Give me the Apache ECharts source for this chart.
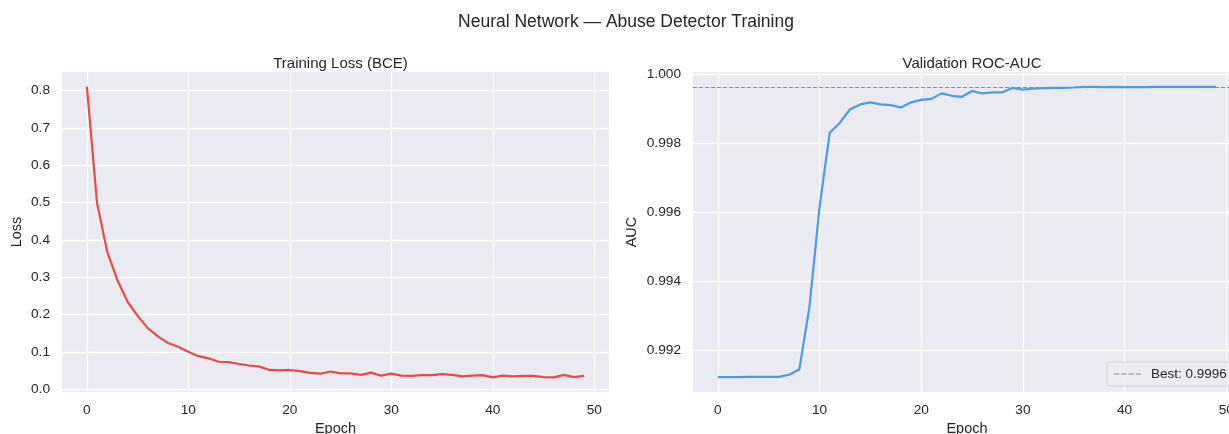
<!DOCTYPE html>
<html>
<head>
<meta charset="utf-8">
<title>Neural Network — Abuse Detector Training</title>
<script src="https://cdn.jsdelivr.net/npm/echarts@6/dist/echarts.min.js"></script>
<style>
  html, body { margin: 0; padding: 0; background: #ffffff; }
  #chart { width: 1229px; height: 434px; }
</style>
</head>
<body>
<div id="chart"></div>
<script>
// Training history of the abuse-detector network
const epochs = [0, 1, 2, 3, 4, 5, 6, 7, 8, 9, 10, 11, 12, 13, 14, 15, 16, 17, 18, 19,
  20, 21, 22, 23, 24, 25, 26, 27, 28, 29, 30, 31, 32, 33, 34, 35, 36, 37, 38, 39,
  40, 41, 42, 43, 44, 45, 46, 47, 48, 49];

const trainLoss = [0.811, 0.500, 0.369, 0.293, 0.235, 0.197, 0.164, 0.142, 0.124, 0.114,
  0.101, 0.089, 0.083, 0.074, 0.073, 0.068, 0.064, 0.061, 0.052, 0.051,
  0.052, 0.049, 0.044, 0.042, 0.048, 0.043, 0.043, 0.039, 0.045, 0.037,
  0.042, 0.037, 0.036, 0.038, 0.038, 0.041, 0.039, 0.035, 0.037, 0.038,
  0.032, 0.037, 0.035, 0.036, 0.036, 0.033, 0.032, 0.039, 0.033, 0.036];

const valAuc = [0.99122, 0.99122, 0.99122, 0.99123, 0.99123, 0.99123, 0.99123, 0.99129, 0.99144, 0.99325,
  0.99616, 0.99831, 0.99860, 0.99899, 0.99913, 0.99919, 0.99913, 0.99911, 0.99904, 0.99919,
  0.99926, 0.99929, 0.99945, 0.99938, 0.99935, 0.99952, 0.99945, 0.99948, 0.99948, 0.99961,
  0.99956, 0.99959, 0.99960, 0.99961, 0.99961, 0.99962, 0.99964, 0.99964, 0.99963, 0.99964,
  0.99963, 0.99963, 0.99963, 0.99964, 0.99964, 0.99964, 0.99964, 0.99964, 0.99964, 0.99964];

const epochTicks = [0, 10, 20, 30, 40, 50];
const lossTicks = [0.0, 0.1, 0.2, 0.3, 0.4, 0.5, 0.6, 0.7, 0.8];
const aucTicks = [0.992, 0.994, 0.996, 0.998, 1.000];

const bestAuc = Math.max(...valAuc);
const bestLabel = 'Best: ' + bestAuc.toFixed(4);

const TEXT = '#262626';
const FONT = '"Liberation Sans", Arial, sans-serif';
const PANEL_BG = '#EAEAF2';
const BEST_COLOR = '#8c8c8c';
// four short dashes, used as the legend key of the dashed reference line
const DASH_ICON = 'path://M0,0H5V1H0Z M7,0H12V1H7Z M14,0H19V1H14Z M21,0H26V1H21Z';

function pairs(xs, ys) { return xs.map((x, i) => [x, ys[i]]); }

function xAxisFor(gridIndex) {
  return {
    type: 'value', gridIndex,
    min: -2.45, max: 51.45,
    name: 'Epoch', nameLocation: 'middle', nameGap: 28,
    nameTextStyle: { color: TEXT, fontSize: 14.5, fontFamily: FONT },
    axisLine: { show: false }, axisTick: { show: false, customValues: epochTicks },
    axisLabel: { customValues: epochTicks, color: TEXT, fontSize: 13.7, fontFamily: FONT, margin: 11 },
    splitLine: { show: true, lineStyle: { color: '#ffffff', width: 1.3 } }
  };
}

function yAxisFor(gridIndex, min, max, ticks, digits, name, nameGap) {
  return {
    type: 'value', gridIndex, min, max,
    name, nameLocation: 'middle', nameGap,
    nameTextStyle: { color: TEXT, fontSize: 14.5, fontFamily: FONT },
    axisLine: { show: false }, axisTick: { show: false, customValues: ticks },
    axisLabel: { customValues: ticks, color: TEXT, fontSize: 13.7, fontFamily: FONT, margin: 12,
      formatter: v => v.toFixed(digits) },
    splitLine: { show: true, lineStyle: { color: '#ffffff', width: 1.3 } }
  };
}

const chart = echarts.init(document.getElementById('chart'), null, { renderer: 'canvas' });

chart.setOption({
  animation: false,
  backgroundColor: '#ffffff',
  textStyle: { fontFamily: FONT },
  title: [
    { text: 'Neural Network — Abuse Detector Training', left: 621, top: 8, textAlign: 'center',
      textStyle: { color: TEXT, fontSize: 17.5, fontWeight: 'normal', fontFamily: FONT } },
    { text: 'Training Loss (BCE)', left: 335.5, top: 51, textAlign: 'center',
      textStyle: { color: TEXT, fontSize: 15, fontWeight: 'normal', fontFamily: FONT } },
    { text: 'Validation ROC-AUC', left: 967, top: 51, textAlign: 'center',
      textStyle: { color: TEXT, fontSize: 15, fontWeight: 'normal', fontFamily: FONT } }
  ],
  grid: [
    { left: 62, top: 72, width: 547, height: 320, outerBoundsMode: 'none', containLabel: false,
      show: true, backgroundColor: PANEL_BG, borderWidth: 0 },
    { left: 693, top: 72, width: 548, height: 320, outerBoundsMode: 'none', containLabel: false,
      show: true, backgroundColor: PANEL_BG, borderWidth: 0 }
  ],
  xAxis: [xAxisFor(0), xAxisFor(1)],
  yAxis: [
    yAxisFor(0, -0.007, 0.85, lossTicks, 1, 'Loss', 38),
    yAxisFor(1, 0.99079, 1.00007, aucTicks, 3, 'AUC', 54)
  ],
  legend: {
    data: [{ name: bestLabel, icon: DASH_ICON }],
    left: 1107, top: 362,
    orient: 'vertical',
    backgroundColor: 'rgba(236,236,243,0.85)',
    borderColor: '#cfcfd6', borderWidth: 1, borderRadius: 3,
    padding: [5, 8, 5, 7],
    itemWidth: 27, itemHeight: 1.3, itemGap: 6,
    textStyle: { color: TEXT, fontSize: 13.5, fontFamily: FONT, padding: [0, 0, 0, 5] }
  },
  series: [
    {
      name: 'Train Loss', type: 'line', xAxisIndex: 0, yAxisIndex: 0,
      data: pairs(epochs, trainLoss), symbol: 'none',
      lineStyle: { color: '#e84a4a', width: 2.2 }, itemStyle: { color: '#e84a4a' }
    },
    {
      name: 'Val AUC', type: 'line', xAxisIndex: 1, yAxisIndex: 1,
      data: pairs(epochs, valAuc), symbol: 'none', z: 3,
      lineStyle: { color: '#4c9be8', width: 2.2 }, itemStyle: { color: '#4c9be8' },
      // horizontal reference at the best validation AUC
      markLine: {
        silent: true, symbol: 'none', label: { show: false }, z: 2,
        precision: 6,
        lineStyle: { color: BEST_COLOR, width: 1.2, type: [4, 2] },
        emphasis: { disabled: true },
        data: [{ yAxis: bestAuc }]
      }
    },
    {
      // legend entry for the best-AUC reference line
      name: bestLabel, type: 'line', xAxisIndex: 1, yAxisIndex: 1,
      data: [], symbol: 'none',
      lineStyle: { color: BEST_COLOR, width: 1.2, type: [4, 2] }, itemStyle: { color: BEST_COLOR }
    }
  ]
});
</script>
</body>
</html>
